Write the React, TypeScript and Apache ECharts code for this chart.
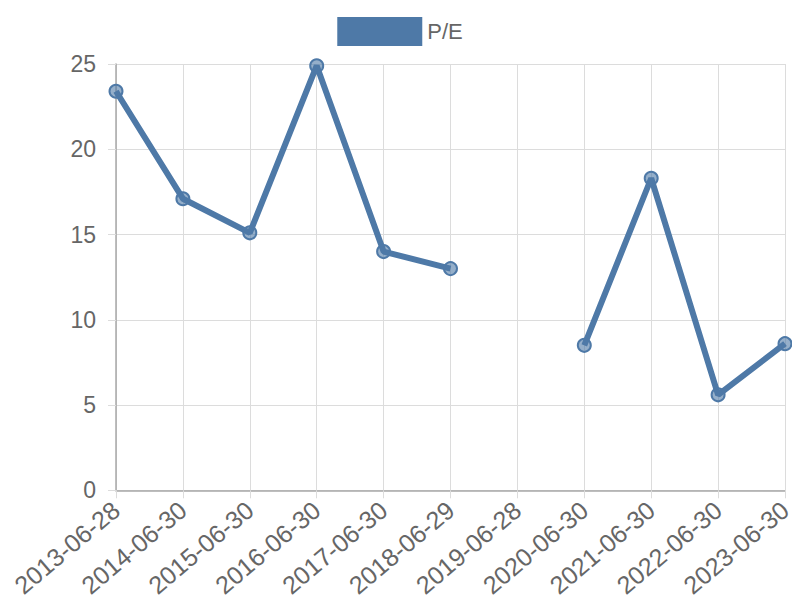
import React, { useEffect, useRef } from "react";
import * as echarts from "echarts";

const categories = [
  "2013-06-28", "2014-06-30", "2015-06-30", "2016-06-30", "2017-06-30", "2018-06-29",
  "2019-06-28", "2020-06-30", "2021-06-30", "2022-06-30", "2023-06-30",
];
const peValues: (number | null)[] = [23.4, 17.1, 15.1, 24.9, 14.0, 13.0, null, 8.5, 18.3, 5.6, 8.6];
const seriesName = "P/E";
const yMin = 0;
const yMax = 25;
const yInterval = 5;

const COLOR = "#4e79a7";
const FONT = "Liberation Sans, Arial, sans-serif";

export default function App() {
  const ref = useRef<HTMLDivElement>(null);
  useEffect(() => {
    if (!ref.current) return;
    const chart = echarts.init(ref.current, undefined, { renderer: "svg" });
    chart.setOption({
      animation: false,
      textStyle: { fontFamily: FONT },
      legend: {
        top: 12,
        left: "center",
        icon: "rect",
        itemWidth: 85,
        itemHeight: 29,
        itemGap: 10,
        itemStyle: { color: COLOR, borderWidth: 0 },
        textStyle: { fontSize: 22, color: "#666", fontFamily: FONT },
        data: [seriesName],
      },
      grid: { left: 116, right: 15, top: 64, bottom: 109, containLabel: false },
      xAxis: {
        type: "category",
        data: categories,
        boundaryGap: false,
        axisLine: { lineStyle: { color: "#a8a8a8", width: 1.5 } },
        axisTick: { show: true, length: 8, lineStyle: { color: "#dcdcdc" } },
        splitLine: { show: true, lineStyle: { color: "#dcdcdc", width: 1 } },
        axisLabel: {
          rotate: 40,
          interval: 0,
          margin: 16,
          fontSize: 25,
          color: "#666",
          fontFamily: FONT,
        },
      },
      yAxis: {
        type: "value",
        min: yMin,
        max: yMax,
        interval: yInterval,
        axisLine: { show: true, lineStyle: { color: "#a8a8a8", width: 1.5 } },
        axisTick: { show: true, length: 8, lineStyle: { color: "#dcdcdc" } },
        splitLine: { show: true, lineStyle: { color: "#dcdcdc", width: 1 } },
        axisLabel: { margin: 20, fontSize: 23, color: "#666", fontFamily: FONT },
      },
      series: [
        {
          name: seriesName,
          type: "line",
          data: peValues,
          connectNulls: false,
          symbol: "circle",
          symbolSize: 13,
          showAllSymbol: true,
          lineStyle: { color: COLOR, width: 6 },
          itemStyle: { color: "rgba(78,121,167,0.6)", borderColor: COLOR, borderWidth: 2 },
          color: COLOR,
        },
      ],
    });
    return () => chart.dispose();
  }, []);
  return <div ref={ref} style={{ width: 800, height: 600, marginLeft: -8, marginTop: -8 }} />;
}
